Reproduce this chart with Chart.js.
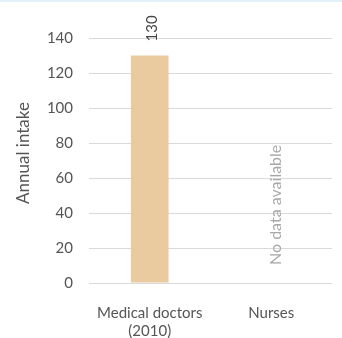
<!DOCTYPE html>
<html><head><meta charset="utf-8">
<script src="https://cdn.jsdelivr.net/npm/chart.js@4"></script>
<style>
html,body{margin:0;padding:0;background:#fff;}
body{width:342px;height:338px;overflow:hidden;position:relative;}
#top{position:absolute;left:0;top:0;width:342px;height:2px;background:#e2f1f9;}
#wrap{position:absolute;left:0;top:0;width:342px;height:338px;}
</style></head>
<body><div id="top"></div><div id="wrap"><canvas id="c" width="342" height="338"></canvas></div>
<script>
const categories = [["Medical doctors", "(2010)"], ["Nurses"]];
const values = [130, null];
const yTicks = [0, 20, 40, 60, 80, 100, 120, 140];
const yTitle = "Annual intake";
const noDataText = "No data available";

const FONT = "'Source Sans Pro', Lato, 'Noto Sans', sans-serif";

const labelPlugin = {
  id: 'labels',
  afterDatasetsDraw(chart) {
    const ctx = chart.ctx;
    const y = chart.scales.y;
    ctx.save();
    values.forEach((v, i) => {
      const x = chart.scales.x.getPixelForValue(i);
      if (v === null || v === undefined) {
        ctx.save();
        ctx.translate(x + 5, y.getPixelForValue(0) - 18);
        ctx.rotate(-Math.PI / 2);
        ctx.font = "16px " + FONT;
        ctx.fillStyle = "#a8a8a8";
        ctx.textAlign = "left";
        ctx.textBaseline = "middle";
        ctx.fillText(noDataText, 0, 0);
        ctx.restore();
      } else {
        ctx.save();
        ctx.translate(x + 2, y.getPixelForValue(v) - 14);
        ctx.rotate(-Math.PI / 2);
        ctx.font = "15px " + FONT;
        ctx.fillStyle = "#444";
        ctx.textAlign = "left";
        ctx.textBaseline = "middle";
        ctx.fillText(String(v), 0, 0);
        ctx.restore();
      }
    });
    ctx.save();
    ctx.translate(24, 153);
    ctx.rotate(-Math.PI / 2);
    ctx.font = "17px " + FONT;
    ctx.fillStyle = "#555";
    ctx.textAlign = "center";
    ctx.textBaseline = "middle";
    ctx.fillText(yTitle, 0, 0);
    ctx.restore();
    ctx.restore();
  }
};

new Chart(document.getElementById('c'), {
  type: 'bar',
  data: {
    labels: categories,
    datasets: [{
      data: values,
      backgroundColor: '#eacba0',
      borderWidth: 0,
      categoryPercentage: 1,
      barPercentage: 0.31
    }]
  },
  options: {
    responsive: false,
    animation: false,
    events: [],
    layout: { padding: { top: 38, right: 10, left: 0, bottom: 0 } },
    plugins: { legend: { display: false }, tooltip: { enabled: false } },
    scales: {
      x: {
        grid: { display: false, drawTicks: false },
        border: { display: false },
        ticks: { color: '#555', font: { size: 15, family: FONT }, padding: 21, maxRotation: 0, autoSkip: false },
        afterFit(s) { s.height = 55; }
      },
      y: {
        min: 0, max: 140,
        afterBuildTicks(s) { s.ticks = yTicks.map(v => ({ value: v })); },
        grid: { color: '#dadada', lineWidth: 1, drawTicks: false },
        border: { display: false },
        ticks: { color: '#555', font: { size: 15, family: FONT }, padding: 16 },
        afterFit(s) { s.width = 89; }
      }
    }
  },
  plugins: [labelPlugin]
});
</script></body></html>
